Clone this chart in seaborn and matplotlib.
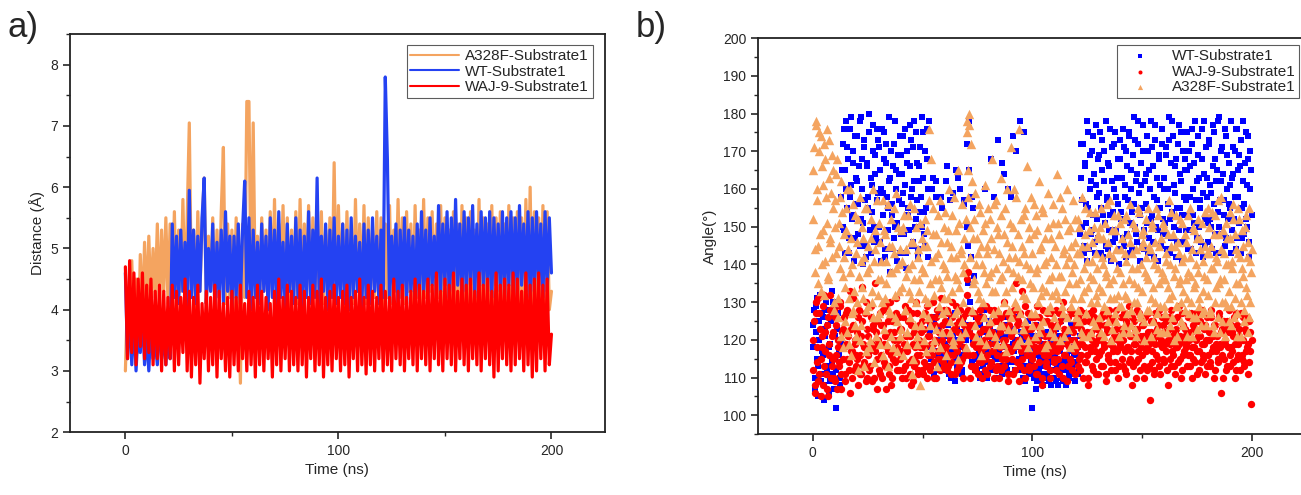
import numpy as np
import pandas as pd
import matplotlib
matplotlib.use("Agg")
import matplotlib.pyplot as plt
from matplotlib.ticker import MultipleLocator
import seaborn as sns

# painel a) distancia (A) a cada 1 ns
dist_a328f = [
    3.0, 4.2, 3.4, 4.8, 3.6, 4.5, 3.3, 4.9, 3.8, 5.1, 4.0, 5.2, 4.1, 5.0, 4.2, 5.4, 4.0, 5.3, 4.3, 5.5,
    4.1, 5.4, 4.2, 5.6, 4.0, 5.3, 4.3, 5.8, 4.1, 5.5, 7.05, 4.2, 5.3, 4.0, 5.6, 4.3, 5.4, 6.15, 4.1, 5.2,
    4.3, 5.5, 4.0, 5.3, 4.2, 5.6, 6.65, 4.1, 5.4, 4.2, 5.3, 4.0, 5.5, 4.1, 2.8, 5.4, 4.2, 7.4, 7.4, 4.3,
    7.05, 4.2, 5.2, 4.1, 5.5, 4.3, 5.3, 4.0, 5.6, 4.2, 5.8, 4.1, 5.4, 4.3, 5.7, 4.2, 5.5, 4.0, 5.3, 4.2,
    5.6, 4.1, 5.8, 4.3, 5.4, 4.2, 5.7, 4.1, 5.5, 4.3, 5.4, 4.2, 5.6, 4.1, 5.3, 4.3, 5.5, 4.2, 6.4, 4.1,
    5.7, 4.3, 5.4, 4.0, 5.6, 4.2, 5.3, 4.1, 5.8, 4.3, 5.4, 4.2, 5.7, 4.1, 5.5, 4.3, 5.3, 4.2, 5.6, 4.1,
    5.5, 4.0, 5.4, 4.2, 5.7, 4.1, 5.3, 4.3, 5.8, 4.2, 5.5, 4.1, 5.6, 4.3, 5.4, 4.0, 5.7, 4.2, 5.3, 4.1,
    5.8, 4.2, 5.5, 4.3, 5.6, 4.1, 5.4, 4.2, 5.7, 4.0, 5.5, 3.9, 5.3, 4.0, 5.6, 3.8, 5.4, 4.0, 5.7, 3.9,
    5.5, 3.8, 5.6, 4.0, 5.3, 3.9, 5.8, 3.8, 5.5, 4.0, 5.4, 3.9, 5.7, 3.8, 5.5, 4.0, 5.6, 3.9, 5.4, 3.8,
    5.7, 4.0, 5.5, 3.9, 5.6, 3.8, 5.5, 4.0, 5.8, 3.9, 6.0, 3.8, 5.6, 4.0, 5.5, 3.9, 5.7, 3.8, 5.6, 4.0,
    4.3]
dist_wt = [
    4.6, 3.2, 4.1, 3.1, 3.9, 3.0, 3.7, 3.3, 4.0, 3.1, 3.6, 3.0, 3.8, 3.2, 3.5, 3.1, 3.9, 3.2, 3.6, 3.1,
    3.8, 3.2, 5.4, 4.2, 5.2, 4.1, 5.3, 4.3, 5.1, 4.0, 5.95, 4.2, 5.3, 4.1, 5.2, 4.3, 5.5, 6.15, 4.1, 5.0,
    4.3, 5.4, 4.0, 5.1, 4.2, 5.3, 4.1, 5.6, 4.3, 5.2, 4.0, 5.2, 4.2, 5.4, 4.1, 5.3, 6.1, 4.2, 5.5, 4.0,
    5.3, 4.2, 5.1, 4.1, 5.4, 4.3, 5.2, 4.0, 5.5, 4.2, 5.3, 4.1, 5.6, 4.2, 5.1, 4.0, 5.4, 4.3, 5.2, 4.1,
    5.5, 4.2, 5.3, 4.0, 5.2, 4.2, 5.6, 4.1, 5.3, 4.2, 6.15, 4.1, 5.2, 4.3, 5.4, 4.0, 5.3, 4.2, 5.5, 4.1,
    5.2, 4.2, 5.4, 4.1, 5.3, 4.0, 5.5, 4.2, 5.2, 4.3, 5.1, 4.0, 5.4, 4.2, 5.3, 4.1, 5.5, 4.3, 5.2, 4.1,
    5.3, 4.2, 7.8, 6.45, 4.1, 5.2, 4.3, 5.4, 4.0, 5.3, 4.2, 5.5, 4.1, 5.3, 4.3, 5.2, 4.0, 5.4, 4.2, 5.6,
    4.3, 5.3, 4.1, 5.5, 4.4, 5.2, 4.2, 5.7, 4.3, 5.4, 4.4, 5.6, 4.2, 5.5, 4.3, 5.8, 4.4, 5.4, 4.2, 5.6,
    4.3, 5.5, 4.4, 5.7, 4.2, 5.4, 4.3, 5.6, 4.4, 5.5, 4.3, 5.6, 4.2, 5.5, 4.4, 5.4, 4.3, 5.6, 4.2, 5.5,
    4.4, 5.6, 4.3, 5.5, 4.2, 5.7, 4.4, 5.4, 4.3, 5.6, 4.2, 5.5, 4.3, 5.6, 4.4, 5.4, 4.2, 5.6, 4.3, 5.5,
    4.6]
dist_waj9 = [
    4.7, 3.2, 4.8, 3.3, 4.6, 3.1, 4.5, 3.4, 4.6, 3.2, 4.4, 3.3, 4.5, 3.1, 4.3, 3.2, 4.4, 3.0, 4.3, 3.1,
    4.2, 3.2, 4.4, 3.0, 4.3, 3.1, 4.2, 3.3, 4.5, 3.0, 4.3, 2.9, 4.2, 3.1, 4.4, 2.8, 4.1, 3.2, 4.3, 3.0,
    4.2, 3.1, 4.4, 2.9, 4.3, 3.2, 4.1, 3.0, 4.2, 2.9, 4.3, 3.1, 4.2, 3.0, 4.4, 3.2, 4.1, 3.0, 4.3, 3.1,
    4.2, 2.9, 4.4, 3.1, 4.3, 3.0, 4.2, 3.2, 4.1, 2.9, 4.3, 3.1, 4.5, 3.0, 4.2, 3.2, 4.4, 3.0, 4.3, 3.1,
    4.2, 3.0, 4.4, 3.1, 4.3, 2.9, 4.2, 3.2, 4.4, 3.0, 4.3, 3.1, 4.5, 2.9, 4.2, 3.1, 4.3, 3.0, 4.4, 3.2,
    4.2, 3.0, 4.3, 3.1, 4.4, 2.9, 4.2, 3.2, 4.3, 3.0, 4.5, 3.1, 4.2, 2.95, 4.4, 3.1, 4.3, 3.0, 4.2, 3.2,
    4.4, 3.0, 4.3, 3.1, 4.2, 3.0, 4.5, 3.2, 4.3, 3.1, 4.4, 3.0, 4.2, 3.2, 4.3, 3.1, 4.5, 3.0, 4.4, 3.2,
    4.3, 3.1, 4.5, 3.0, 4.4, 3.2, 4.6, 3.1, 4.3, 3.0, 4.5, 3.2, 4.4, 3.1, 4.6, 3.0, 4.3, 3.2, 4.5, 3.1,
    4.4, 3.0, 4.5, 3.2, 4.3, 3.1, 4.6, 3.0, 4.4, 3.2, 4.5, 3.1, 4.3, 2.9, 4.6, 3.0, 4.4, 3.2, 4.5, 3.1,
    4.4, 3.0, 4.6, 3.1, 4.5, 3.2, 4.3, 3.0, 4.6, 3.1, 4.4, 2.9, 4.5, 3.0, 4.6, 3.2, 4.4, 3.0, 4.5, 3.1,
    3.6]

# painel b) angulo (graus), frames em 0, 0.5, 1.0 ... ns
ang_wt = [
    118, 128, 107, 122, 131, 113, 125, 109, 127, 116, 104, 121, 130, 112, 124, 106, 119, 133, 111, 126,
    115, 102, 123, 129, 117, 108, 158, 172, 149, 165, 178, 155, 168, 143, 176, 161, 152, 170, 147, 163,
    174, 156, 166, 145, 179, 160, 151, 171, 142, 167, 158, 175, 149, 163, 154, 177, 146, 169, 157, 173,
    150, 165, 141, 176, 159, 168, 144, 172, 155, 162, 138, 170, 153, 166, 147, 178, 160, 151, 164, 143,
    169, 156, 174, 148, 161, 139, 167, 153, 177, 158, 145, 171, 162, 150, 175, 157, 142, 166, 154, 179,
    163, 148, 170, 155, 176, 160, 118, 122, 113, 163, 125, 110, 158, 120, 116, 127, 112, 121, 155, 115,
    119, 162, 114, 124, 111, 157, 126, 117, 121, 109, 165, 123, 115, 128, 160, 118, 112, 125, 156, 120,
    150, 135, 165, 122, 142, 114, 155, 119, 112, 124, 116, 121, 110, 126, 118, 113, 123, 160, 117, 111,
    125, 119, 168, 114, 122, 116, 127, 112, 120, 173, 115, 124, 111, 118, 164, 121, 113, 126, 117, 122,
    158, 114, 119, 123, 112, 170, 118, 125, 115, 178, 121, 110, 175, 117, 124, 113, 119, 116, 122, 111,
    102, 118, 112, 124, 109, 116, 121, 110, 113, 119, 108, 115, 122, 111, 117, 109, 114, 120, 112, 116,
    110, 123, 113, 108, 118, 111, 125, 114, 109, 119, 112, 116, 121, 110, 115, 124, 113, 117, 111, 120,
    114, 118, 112, 121, 163, 150, 172, 145, 167, 156, 141, 175, 160, 148, 170, 153, 164, 143, 177, 158,
    147, 169, 155, 173, 142, 162, 151, 178, 158, 144, 166, 153, 171, 146, 160, 175, 149, 163, 156, 140,
    168, 152, 176, 145, 161, 170, 148, 157, 174, 143, 165, 154, 179, 150, 162, 146, 172, 159, 141, 167,
    155, 177, 144, 164, 151, 170, 147, 160, 178, 153, 166, 142, 173, 157, 149, 169, 161, 145, 176, 152,
    163, 148, 171, 156, 179, 143, 167, 154, 174, 150, 159, 168, 146, 177, 155, 162, 141, 170, 158, 165,
    149, 175, 153, 166, 144, 172, 160, 151, 178, 157, 147, 169, 163, 155, 176, 142, 164, 152, 171, 158,
    146, 173, 161, 150, 177, 156, 168, 143, 165, 154, 179, 148, 162, 171, 157, 145, 174, 160, 152, 167,
    155, 178, 149, 164, 170, 144, 176, 158, 151, 166, 173, 147, 162, 156, 175, 150, 168, 142, 160, 165]
ang_waj9 = [
    112, 125, 106, 130, 118, 109, 127, 115, 121, 108, 132, 117, 111, 124, 105, 119, 128, 113, 122, 110,
    126, 116, 107, 120, 114, 129, 111, 123, 118, 109, 127, 115, 121, 112, 133, 117, 110, 124, 119, 113,
    122, 108, 128, 116, 111, 125, 119, 114, 130, 110, 121, 117, 113, 126, 109, 123, 118, 135, 115, 120,
    112, 127, 116, 110, 124, 119, 113, 129, 117, 111, 122, 108, 125, 115, 120, 114, 131, 118, 112, 123,
    116, 110, 126, 119, 113, 121, 117, 128, 111, 124, 115, 109, 122, 118, 114, 127, 112, 120, 116, 125,
    111, 123, 118, 113, 129, 116, 121, 112, 126, 119, 114, 124, 110, 128, 117, 122, 115, 131, 120, 113,
    125, 118, 112, 127, 116, 121, 114, 130, 119, 111, 124, 117, 122, 113, 128, 120, 115, 126, 118, 123,
    132, 138, 116, 124, 113, 121, 119, 127, 112, 118, 125, 114, 122, 117, 110, 126, 120, 115, 123, 111,
    119, 128, 114, 122, 117, 110, 125, 121, 113, 127, 118, 112, 124, 116, 130, 120, 115, 123, 109, 126,
    117, 122, 111, 128, 119, 135, 114, 125, 120, 113, 133, 118, 124, 110, 121, 116, 127, 112, 119, 123,
    115, 126, 118, 111, 129, 120, 114, 123, 117, 108, 125, 119, 113, 127, 116, 121, 110, 124, 118, 122,
    114, 128, 117, 120, 111, 125, 119, 113, 130, 116, 122, 109, 126, 118, 115, 123, 112, 127, 120, 117,
    124, 113, 119, 128, 116, 121, 110, 125, 118, 114, 122, 108, 127, 117, 120, 112, 126, 119, 115, 123,
    111, 121, 117, 126, 113, 119, 124, 109, 122, 116, 128, 114, 120, 118, 125, 112, 123, 117, 110, 121,
    119, 126, 113, 122, 117, 111, 124, 118, 129, 115, 121, 108, 125, 119, 114, 123, 117, 127, 112, 120,
    116, 124, 110, 121, 118, 127, 113, 104, 122, 117, 125, 112, 119, 123, 115, 128, 111, 120, 118, 124,
    114, 122, 117, 108, 126, 119, 113, 121, 116, 125, 111, 123, 118, 129, 115, 120, 112, 124, 117, 121,
    119, 113, 126, 116, 122, 110, 124, 118, 114, 127, 117, 121, 112, 125, 119, 115, 123, 111, 120, 126,
    116, 122, 113, 128, 118, 110, 124, 117, 121, 114, 126, 119, 106, 123, 115, 120, 112, 125, 118, 122,
    113, 124, 117, 121, 110, 127, 115, 119, 123, 112, 120, 116, 126, 114, 122, 118, 111, 125, 117, 103]
ang_a328f = [
    152, 171, 138, 178, 160, 145, 175, 133, 166, 149, 172, 141, 158, 176, 136, 163, 147, 169, 155, 130,
    157, 143, 168, 126, 151, 139, 162, 118, 148, 134, 155, 122, 144, 131, 160, 116, 140, 128, 153, 121,
    146, 112, 137, 158, 124, 150, 131, 142, 117, 155, 129, 139, 120, 147, 133, 160, 114, 144, 126, 136,
    151, 119, 141, 130, 157, 123, 148, 135, 113, 145, 127, 152, 138, 118, 143, 132, 159, 125, 140, 121,
    149, 134, 116, 153, 128, 144, 122, 139, 156, 131, 111, 146, 136, 124, 150, 119, 142, 133, 108, 147,
    127, 138, 152, 117, 145, 130, 176, 124, 141, 155, 120, 136, 148, 113, 143, 129, 157, 134, 122, 150,
    139, 116, 146, 131, 160, 125, 142, 153, 119, 137, 149, 128, 165, 134, 121, 144, 156, 130, 140, 118,
    178, 165, 180, 150, 172, 128, 147, 136, 159, 121, 143, 131, 154, 116, 140, 149, 126, 161, 135, 145,
    122, 152, 138, 168, 127, 144, 133, 157, 119, 148, 136, 163, 124, 141, 130, 155, 117, 146, 139, 128,
    171, 134, 150, 123, 142, 158, 129, 137, 176, 120, 145, 132, 153, 125, 140, 166, 118, 147, 135, 127,
    143, 156, 121, 138, 149, 130, 162, 124, 145, 134, 154, 118, 141, 128, 159, 136, 122, 147, 132, 151,
    126, 140, 164, 131, 148, 120, 137, 155, 127, 144, 133, 160, 123, 142, 150, 129, 138, 157, 119, 146,
    135, 152, 125, 143, 131, 158, 121, 139, 148, 127, 145, 134, 154, 122, 141, 136, 150, 124, 143, 130,
    147, 126, 155, 133, 140, 121, 151, 137, 128, 146, 135, 157, 123, 142, 131, 149, 125, 139, 153, 129,
    138, 144, 122, 152, 132, 141, 127, 148, 136, 156, 124, 143, 130, 150, 121, 139, 134, 154, 126, 145,
    133, 149, 120, 142, 137, 155, 128, 144, 131, 151, 125, 140, 146, 123, 153, 135, 129, 147, 138, 122,
    150, 127, 141, 134, 157, 124, 145, 132, 148, 120, 139, 153, 129, 143, 136, 125, 151, 133, 142, 128,
    146, 121, 138, 155, 130, 144, 126, 149, 135, 140, 123, 152, 131, 147, 127, 141, 137, 154, 124, 143,
    132, 150, 128, 145, 139, 122, 153, 134, 141, 126, 148, 136, 158, 125, 143, 130, 151, 129, 140, 133,
    147, 124, 139, 152, 131, 144, 127, 155, 135, 142, 121, 149, 137, 128, 153, 132, 146, 126, 141, 138]

# frames intermediarios (0.25, 0.75, 1.25 ... ns)
ang_wt_2 = [
    124, 110, 129, 115, 105, 120, 132, 111, 117, 126, 108, 123, 113, 128, 118, 109, 125, 114, 130, 107,
    121, 112, 127, 116, 110, 119, 165, 150, 176, 143, 160, 171, 147, 158, 179, 153, 167, 141, 174, 156,
    162, 148, 178, 152, 168, 140, 173, 157, 145, 166, 155, 180, 143, 161, 170, 150, 164, 147, 176, 159,
    171, 146, 160, 153, 175, 142, 167, 158, 149, 179, 163, 144, 156, 172, 150, 165, 141, 169, 157, 174,
    148, 164, 159, 176, 143, 170, 155, 149, 166, 173, 160, 146, 178, 152, 167, 144, 162, 171, 158, 150,
    175, 154, 145, 168, 142, 178, 124, 115, 160, 119, 111, 126, 162, 117, 123, 113, 158, 120, 116, 127,
    112, 121, 166, 118, 125, 110, 119, 159, 114, 127, 120, 113, 163, 116, 122, 111, 126, 157, 117, 124,
    172, 145, 178, 130, 158, 120, 137, 115, 126, 112, 120, 117, 124, 111, 119, 128, 114, 122, 110, 118,
    116, 123, 112, 120, 158, 115, 122, 110, 126, 117, 113, 121, 167, 116, 119, 124, 112, 160, 118, 114,
    123, 111, 174, 117, 120, 114, 126, 112, 119, 122, 116, 113, 120, 109, 118, 125, 111, 117, 114, 121,
    113, 110, 117, 107, 120, 112, 115, 109, 118, 111, 114, 121, 110, 116, 113, 119, 108, 115, 112, 118,
    116, 109, 114, 121, 112, 117, 110, 119, 113, 115, 108, 122, 114, 111, 118, 112, 120, 116, 109, 114,
    119, 111, 116, 148, 172, 157, 143, 166, 151, 178, 155, 144, 169, 162, 149, 174, 146, 161, 152, 168,
    159, 175, 143, 165, 153, 170, 145, 157, 167, 149, 176, 141, 162, 154, 172, 147, 158, 168, 144, 173,
    154, 163, 147, 171, 158, 142, 166, 175, 151, 160, 144, 169, 156, 173, 148, 164, 178, 153, 161, 145,
    170, 149, 162, 156, 174, 143, 165, 152, 171, 146, 158, 177, 150, 163, 141, 168, 155, 172, 148, 160,
    151, 169, 144, 160, 173, 152, 147, 178, 161, 166, 142, 155, 172, 149, 164, 175, 153, 146, 168, 157,
    165, 144, 170, 158, 149, 176, 153, 167, 143, 162, 174, 150, 157, 146, 168, 159, 178, 145, 163, 151,
    172, 152, 159, 144, 166, 175, 148, 162, 178, 150, 157, 170, 143, 164, 153, 176, 147, 169, 156, 161,
    143, 163, 171, 152, 158, 176, 147, 165, 169, 143, 155, 178, 148, 167, 152, 161, 174, 146, 170, 153]
ang_waj9_2 = [
    120, 108, 127, 114, 131, 111, 123, 105, 118, 129, 113, 122, 107, 126, 116, 132, 110, 121, 115, 128,
    109, 124, 118, 113, 130, 107, 122, 115, 126, 111, 119, 128, 114, 106, 123, 117, 131, 112, 120, 116,
    115, 126, 111, 121, 134, 113, 118, 127, 109, 123, 116, 112, 129, 119, 124, 110, 117, 122, 107, 125,
    119, 111, 124, 128, 114, 121, 107, 118, 125, 113, 130, 116, 110, 122, 117, 127, 112, 120, 126, 115,
    123, 117, 112, 129, 110, 118, 125, 114, 121, 108, 127, 119, 113, 130, 116, 111, 124, 118, 122, 112,
    118, 114, 127, 110, 121, 125, 113, 119, 116, 130, 110, 120, 126, 115, 122, 112, 119, 124, 114, 128,
    117, 122, 128, 113, 120, 111, 126, 116, 123, 118, 129, 112, 119, 125, 114, 121, 110, 124, 116, 127,
    136, 128, 122, 110, 127, 116, 124, 113, 120, 126, 111, 119, 128, 114, 123, 118, 112, 129, 116, 121,
    124, 113, 121, 117, 128, 119, 112, 116, 125, 110, 122, 126, 115, 120, 113, 127, 118, 111, 124, 117,
    121, 115, 126, 118, 112, 124, 120, 109, 127, 117, 115, 122, 112, 129, 118, 123, 113, 120, 126, 116,
    120, 113, 124, 117, 111, 126, 118, 122, 110, 128, 116, 121, 114, 125, 119, 112, 127, 117, 123, 115,
    119, 112, 124, 115, 127, 118, 121, 110, 123, 116, 126, 119, 113, 120, 128, 114, 122, 117, 111, 125,
    118, 126, 115, 112, 123, 119, 127, 114, 121, 116, 110, 125, 118, 122, 113, 128, 117, 111, 124, 120,
    116, 124, 113, 120, 127, 118, 111, 123, 115, 126, 119, 112, 125, 117, 121, 114, 128, 120, 113, 118,
    123, 115, 120, 127, 112, 125, 118, 114, 121, 117, 126, 113, 119, 123, 110, 128, 115, 121, 118, 124,
    121, 113, 126, 117, 112, 122, 119, 125, 114, 120, 111, 127, 116, 121, 124, 113, 119, 126, 115, 122,
    119, 125, 112, 120, 123, 115, 128, 117, 113, 122, 118, 126, 114, 119, 121, 110, 127, 116, 123, 118,
    122, 116, 120, 113, 127, 118, 115, 123, 120, 111, 125, 117, 121, 114, 128, 116, 119, 124, 113, 120,
    120, 114, 126, 117, 121, 124, 112, 119, 115, 127, 118, 122, 116, 110, 125, 119, 123, 113, 128, 116,
    118, 122, 114, 126, 119, 112, 124, 116, 121, 127, 115, 120, 113, 123, 117, 126, 119, 114, 122, 120]
ang_a328f_2 = [
    165, 144, 177, 157, 135, 170, 148, 174, 140, 161, 132, 168, 151, 137, 173, 146, 159, 142, 165, 128,
    150, 164, 131, 145, 158, 121, 154, 137, 142, 125, 149, 160, 119, 138, 147, 127, 156, 133, 124, 143,
    130, 152, 120, 141, 134, 147, 113, 155, 128, 138, 145, 118, 152, 130, 126, 141, 149, 121, 157, 132,
    127, 146, 136, 116, 149, 131, 141, 119, 156, 128, 138, 121, 145, 155, 126, 139, 117, 150, 133, 144,
    123, 141, 150, 128, 137, 119, 153, 133, 126, 146, 140, 115, 155, 130, 121, 144, 136, 151, 124, 139,
    145, 120, 131, 149, 126, 157, 135, 168, 118, 148, 132, 142, 123, 153, 136, 118, 146, 127, 140, 131,
    154, 128, 137, 149, 122, 145, 133, 120, 158, 127, 142, 136, 115, 151, 143, 125, 138, 147, 122, 152,
    175, 158, 177, 142, 162, 135, 152, 124, 140, 147, 133, 156, 120, 145, 130, 138, 151, 119, 143, 155,
    137, 125, 147, 133, 156, 121, 139, 150, 128, 143, 124, 153, 137, 119, 148, 133, 160, 123, 142, 151,
    126, 145, 138, 160, 130, 119, 148, 141, 127, 152, 136, 123, 143, 155, 131, 120, 150, 139, 158, 124,
    134, 148, 127, 153, 139, 122, 144, 132, 155, 125, 140, 147, 133, 119, 150, 129, 142, 137, 156, 121,
    145, 133, 124, 151, 137, 158, 129, 143, 121, 152, 140, 126, 149, 135, 118, 145, 131, 140, 152, 126,
    143, 128, 150, 136, 122, 145, 133, 155, 127, 141, 121, 149, 137, 130, 146, 125, 154, 132, 139, 148,
    134, 150, 122, 142, 147, 129, 138, 156, 125, 143, 131, 120, 149, 136, 153, 127, 144, 132, 121, 151,
    129, 147, 135, 124, 143, 153, 131, 122, 146, 128, 139, 151, 135, 123, 144, 130, 155, 127, 140, 148,
    146, 125, 138, 152, 128, 136, 145, 121, 150, 134, 142, 130, 155, 127, 139, 145, 122, 136, 151, 129,
    136, 143, 122, 148, 131, 140, 154, 126, 137, 145, 129, 121, 146, 135, 152, 130, 141, 124, 148, 136,
    131, 153, 127, 142, 137, 121, 150, 134, 126, 147, 138, 129, 144, 124, 151, 133, 128, 145, 136, 155,
    143, 127, 139, 154, 124, 148, 130, 142, 157, 135, 122, 144, 130, 149, 136, 121, 140, 147, 125, 154,
    129, 141, 156, 126, 148, 135, 121, 143, 152, 130, 139, 145, 125, 150, 134, 142, 122, 155, 130, 144]

t_a = np.arange(len(dist_wt))                 # ns
t_b = np.arange(len(ang_wt)) * 0.5            # ns
t_b2 = t_b + 0.25

df_a = pd.concat([
    pd.DataFrame({"t": t_a, "d": dist_a328f, "s": "A328F-Substrate1"}),
    pd.DataFrame({"t": t_a, "d": dist_wt, "s": "WT-Substrate1"}),
    pd.DataFrame({"t": t_a, "d": dist_waj9, "s": "WAJ-9-Substrate1"}),
])

sns.set_style("ticks")
plt.rcParams["font.family"] = ["Liberation Sans", "DejaVu Sans"]

fig = plt.figure(figsize=(13.01, 4.95), dpi=100)
ax1 = fig.add_axes([0.0538, 0.127, 0.411, 0.804])
ax2 = fig.add_axes([0.5826, 0.123, 0.4254, 0.800])

cores_a = {"A328F-Substrate1": "#F4A460", "WT-Substrate1": "#2442F2", "WAJ-9-Substrate1": "#FF0000"}
sns.lineplot(data=df_a, x="t", y="d", hue="s", palette=cores_a, linewidth=2.3,
             estimator=None, sort=False, ax=ax1)
ax1.set_xlim(-26, 225)
ax1.set_ylim(2, 8.5)
ax1.xaxis.set_major_locator(MultipleLocator(100))
ax1.xaxis.set_minor_locator(MultipleLocator(50))
ax1.yaxis.set_major_locator(MultipleLocator(1))
ax1.yaxis.set_minor_locator(MultipleLocator(0.5))
ax1.set_xlabel("Time (ns)", fontsize=11)
ax1.set_ylabel("Distance (Å)", fontsize=11)
leg1 = ax1.legend(loc="upper right", bbox_to_anchor=(0.978, 0.972), borderaxespad=0,
                  fontsize=11, frameon=True, fancybox=False, edgecolor="#333333",
                  handlelength=3.2, borderpad=0.25, labelspacing=0.1, handletextpad=0.4)
leg1.get_frame().set_linewidth(0.8)
for h in leg1.get_lines():
    h.set_linewidth(1.5)

# ordem: WT, WAJ-9 e A328F por cima
sns.scatterplot(x=np.concatenate([t_b, t_b2]), y=ang_wt + ang_wt_2, marker="s", s=24,
                color="#0000FF", linewidth=0, label="WT-Substrate1", ax=ax2)
sns.scatterplot(x=np.concatenate([t_b, t_b2]), y=ang_waj9 + ang_waj9_2, marker="o", s=28,
                color="#FF0000", linewidth=0, label="WAJ-9-Substrate1", ax=ax2)
sns.scatterplot(x=np.concatenate([t_b, t_b2]), y=ang_a328f + ang_a328f_2, marker="^", s=46,
                color="#F4A460", linewidth=0, label="A328F-Substrate1", ax=ax2)
ax2.set_xlim(-25, 227)
ax2.set_ylim(95, 200)
ax2.xaxis.set_major_locator(MultipleLocator(100))
ax2.xaxis.set_minor_locator(MultipleLocator(50))
ax2.yaxis.set_major_locator(MultipleLocator(10))
ax2.yaxis.set_minor_locator(MultipleLocator(5))
ax2.set_xlabel("Time (ns)", fontsize=11)
ax2.set_ylabel("Angle(°)", fontsize=11)
leg2 = ax2.legend(loc="upper right", bbox_to_anchor=(0.978, 0.982), borderaxespad=0,
                  fontsize=11, frameon=True, fancybox=False, edgecolor="#333333",
                  markerscale=0.55, handlelength=2.5, borderpad=0.25, labelspacing=0.1,
                  handletextpad=0.8)
leg2.get_frame().set_linewidth(0.8)

for ax in (ax1, ax2):
    for sp in ax.spines.values():
        sp.set_visible(True)
        sp.set_linewidth(1.3)
        sp.set_color("#222222")
    ax.tick_params(which="major", direction="out", length=5, width=1.2, labelsize=10,
                   top=False, right=False)
    ax.tick_params(which="minor", direction="out", length=3, width=1.0, top=False, right=False)

fig.text(0.006, 0.925, "a)", fontsize=25, ha="left", va="baseline")
fig.text(0.489, 0.925, "b)", fontsize=25, ha="left", va="baseline")

fig.savefig("out.png", dpi=100)
